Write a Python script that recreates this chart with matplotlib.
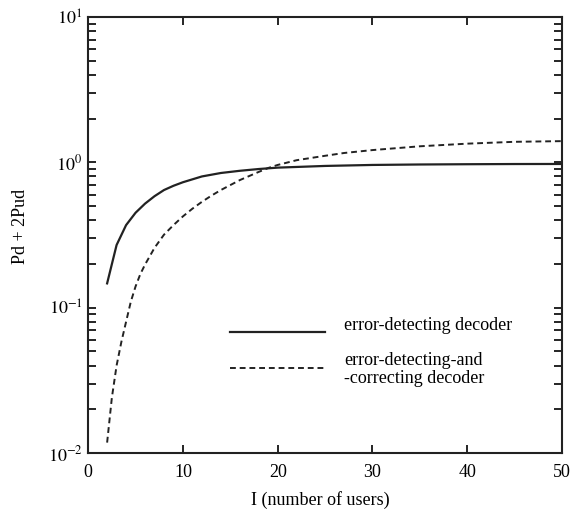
import matplotlib
matplotlib.use('Agg')
import matplotlib.pyplot as plt
from matplotlib.ticker import LogLocator, NullFormatter

plt.rcParams['font.family'] = ['Liberation Serif', 'DejaVu Serif']
plt.rcParams['mathtext.fontset'] = 'stix'

# valores
usuarios_det = [2, 3, 4, 5, 6, 7, 8, 9, 10, 12, 14, 16, 18, 20, 25, 30, 35, 40, 45, 50]
p_det = [0.147, 0.27, 0.37, 0.45, 0.52, 0.585, 0.645, 0.69, 0.73, 0.80, 0.845, 0.875,
         0.90, 0.92, 0.945, 0.96, 0.967, 0.971, 0.974, 0.975]

usuarios_cor = [2, 2.5, 3, 3.5, 4, 4.5, 5, 5.5, 6, 7, 8, 9, 10, 11, 12, 13, 14, 16,
                18, 19, 20, 22, 25, 27, 30, 35, 40, 45, 50]
p_cor = [0.0118, 0.024, 0.040, 0.058, 0.08, 0.11, 0.14, 0.17, 0.198, 0.258, 0.318,
         0.37, 0.425, 0.48, 0.535, 0.59, 0.645, 0.755, 0.86, 0.915, 0.96, 1.035,
         1.11, 1.16, 1.215, 1.29, 1.345, 1.385, 1.40]

xticks = [0, 10, 20, 30, 40, 50]
etiquetas_y = [r'$10^{1}$', r'$10^{0}$', r'$10^{-1}$', r'$10^{-2}$']
valores_y = [10, 1, 0.1, 0.01]

fig = plt.figure(figsize=(5.8, 5.16), dpi=100)
ax = fig.add_axes([0.152, 0.122, 0.817, 0.845])

ax.plot(usuarios_det, p_det, color='#222222', lw=1.6, ls='-')
ax.plot(usuarios_cor, p_cor, color='#222222', lw=1.4, ls=(0, (3, 2)))

ax.set_yscale('log')
ax.set_xlim(0, 50)
ax.set_ylim(0.01, 10)

ax.set_xticks(xticks)
ax.set_yticks(valores_y)
ax.set_yticklabels(etiquetas_y)
ax.yaxis.set_minor_locator(LogLocator(base=10, subs=range(2, 10)))
ax.yaxis.set_minor_formatter(NullFormatter())

ax.tick_params(which='major', direction='in', length=6, width=1.2,
               top=True, right=True, labelsize=13)
ax.tick_params(axis='x', which='major', pad=8)
ax.tick_params(axis='y', which='major', pad=4)
ax.tick_params(which='minor', direction='in', length=6, width=1.2,
               left=True, right=True)
for s in ax.spines.values():
    s.set_linewidth(1.5)
    s.set_color('#222222')

ax.set_xlabel('I (number of users)', fontsize=13)
ax.set_ylabel('Pd + 2Pud', fontsize=13)
ax.xaxis.set_label_coords(0.49, -0.088)
ax.yaxis.set_label_coords(-0.125, 0.52)

# leyenda a mano como en el original
ax.plot([15.0, 25.0], [0.068, 0.068], color='#222222', lw=1.6)
ax.plot([15.0, 25.0], [0.0384, 0.0384], color='#222222', lw=1.4, ls=(0, (3, 2)))
ax.text(27.0, 0.075, 'error-detecting decoder', fontsize=13, va='center')
ax.text(27.0, 0.0375, 'error-detecting-and\n-correcting decoder', fontsize=13,
        va='center', linespacing=1.05)

fig.savefig('out.png', dpi=100)
